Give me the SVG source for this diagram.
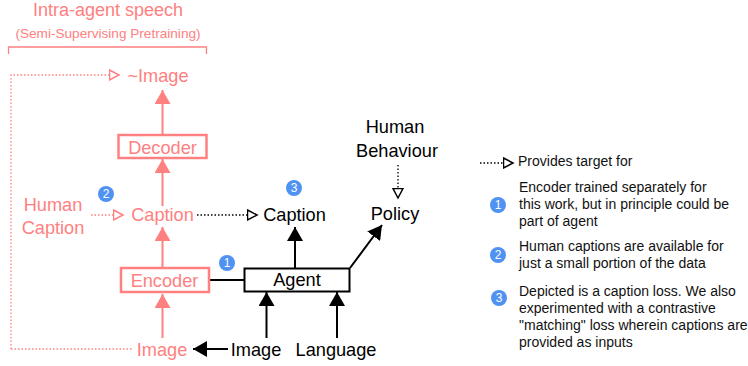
<svg xmlns="http://www.w3.org/2000/svg" width="748" height="366" viewBox="0 0 748 366">
<style>
text{font-family:"Liberation Sans",Arial,sans-serif;}
.pk{fill:#ff8080;}
.bk{fill:#000;}
.big{font-size:18.2px;}
.leg{font-size:14px;fill:#111;}
.box{fill:#fff;stroke:#ff8080;stroke-width:2.5;}
.abox{fill:#fff;stroke:#000;stroke-width:2;}
.pl{stroke:#ff8080;stroke-width:2;fill:none;}
.bl{stroke:#000;stroke-width:2;fill:none;}
.pd{stroke:#ff8080;stroke-width:1.3;stroke-dasharray:1.5 2;fill:none;}
.bd{stroke:#000;stroke-width:1.3;stroke-dasharray:1.5 2;fill:none;}
.badge{fill:#4f92f2;}
.bt{fill:#fff;font-size:12px;text-anchor:middle;}
</style>
<defs>
<marker id="hp" markerUnits="userSpaceOnUse" markerWidth="15" markerHeight="16" refX="14" refY="8" orient="auto"><path d="M0,0 L14,8 L0,16 z" fill="#ff8080"/></marker>
<marker id="hb" markerUnits="userSpaceOnUse" markerWidth="15" markerHeight="16" refX="14" refY="8" orient="auto"><path d="M0,0 L14,8 L0,16 z" fill="#000"/></marker>
<marker id="op" markerUnits="userSpaceOnUse" markerWidth="12" markerHeight="12" refX="10.5" refY="6" orient="auto"><path d="M1,1 L10.5,6 L1,11 z" fill="#fff" stroke="#ff8080" stroke-width="1.5"/></marker>
<marker id="ob" markerUnits="userSpaceOnUse" markerWidth="12" markerHeight="12" refX="10.5" refY="6" orient="auto"><path d="M1,1 L10.5,6 L1,11 z" fill="#fff" stroke="#000" stroke-width="1.5"/></marker>
</defs>

<g id="title">
<text class="pk" x="108" y="16" font-size="18" text-anchor="middle">Intra-agent speech</text>
<text class="pk" x="108" y="37.5" font-size="13.6" text-anchor="middle">(Semi-Supervising Pretraining)</text>
<path d="M8.5,54 V47 H206.5 V54" stroke="#ff8080" stroke-width="1.3" fill="none"/>
</g>

<g id="connectors">
<path class="pd" d="M11,349 H133"/>
<path class="pd" d="M11,349 V75 H119" marker-end="url(#op)"/>
<line class="pl" x1="162.5" y1="135" x2="162.5" y2="90" marker-end="url(#hp)"/>
<line class="pl" x1="162.5" y1="206" x2="162.5" y2="159" marker-end="url(#hp)"/>
<line class="pl" x1="162.5" y1="268" x2="162.5" y2="227" marker-end="url(#hp)"/>
<line class="pl" x1="162.5" y1="338" x2="162.5" y2="294" marker-end="url(#hp)"/>
<line class="pd" x1="91" y1="215" x2="123" y2="215" marker-end="url(#op)"/>
<line class="bd" x1="197" y1="215" x2="257" y2="215" marker-end="url(#ob)"/>
<line class="bd" x1="398" y1="165" x2="398" y2="198" marker-end="url(#ob)"/>
<line class="bl" x1="209" y1="280" x2="244" y2="280"/>
<line class="bl" x1="295" y1="268" x2="295" y2="227" marker-end="url(#hb)"/>
<line class="bl" x1="350" y1="268" x2="382" y2="225" marker-end="url(#hb)"/>
<line class="bl" x1="266.5" y1="338" x2="266.5" y2="292" marker-end="url(#hb)"/>
<line class="bl" x1="337" y1="338" x2="337" y2="292" marker-end="url(#hb)"/>
<line class="bl" x1="228" y1="349" x2="193" y2="349" marker-end="url(#hb)"/>
<line class="bd" x1="480" y1="163" x2="513" y2="163" marker-end="url(#ob)"/>
</g>

<g id="tilde-image"><text class="pk big" x="158" y="82" text-anchor="middle">~Image</text></g>
<g id="decoder"><rect class="box" x="118.5" y="135" width="88" height="23"/><text class="pk big" x="162.5" y="153.5" text-anchor="middle">Decoder</text></g>
<g id="human-caption"><text class="pk big" x="53" y="211" text-anchor="middle">Human</text><text class="pk big" x="53" y="234" text-anchor="middle">Caption</text></g>
<g id="badge2"><circle class="badge" cx="106" cy="194" r="8"/><text class="bt" x="106" y="198.3">2</text></g>
<g id="caption-pink"><text class="pk big" x="162.5" y="221" text-anchor="middle">Caption</text></g>
<g id="encoder"><rect class="box" x="121" y="268" width="88" height="24"/><text class="pk big" x="164.5" y="287" text-anchor="middle">Encoder</text></g>
<g id="badge1"><circle class="badge" cx="227" cy="263" r="8"/><text class="bt" x="227" y="267.3">1</text></g>
<g id="image-pink"><text class="pk big" x="162" y="356" text-anchor="middle">Image</text></g>
<g id="caption-black"><text class="bk big" x="294.5" y="221" text-anchor="middle">Caption</text></g>
<g id="badge3"><circle class="badge" cx="294" cy="188" r="8"/><text class="bt" x="294" y="192.3">3</text></g>
<g id="human-behaviour"><text class="bk big" x="395" y="133" text-anchor="middle">Human</text><text class="bk big" x="397" y="157" text-anchor="middle">Behaviour</text></g>
<g id="policy"><text class="bk big" x="395" y="220" text-anchor="middle">Policy</text></g>
<g id="agent"><rect class="abox" x="244.5" y="268.5" width="105" height="23"/><text class="bk big" x="297" y="286" text-anchor="middle">Agent</text></g>
<g id="image-black"><text class="bk big" x="256" y="356" text-anchor="middle">Image</text></g>
<g id="language"><text class="bk big" x="336" y="356" text-anchor="middle">Language</text></g>

<g id="legend">
<text class="leg" x="518" y="166">Provides target for</text>
<circle class="badge" cx="498" cy="205" r="8"/><text class="bt" x="498" y="209.3">1</text>
<text class="leg" x="519" y="192">Encoder trained separately for</text>
<text class="leg" x="519" y="209">this work, but in principle could be</text>
<text class="leg" x="519" y="226">part of agent</text>
<circle class="badge" cx="498" cy="255" r="8"/><text class="bt" x="498" y="259.3">2</text>
<text class="leg" x="519" y="251">Human captions are available for</text>
<text class="leg" x="519" y="268">just a small portion of the data</text>
<circle class="badge" cx="499" cy="298" r="8"/><text class="bt" x="499" y="302.3">3</text>
<text class="leg" x="519" y="296">Depicted is a caption loss. We also</text>
<text class="leg" x="519" y="313">experimented with a contrastive</text>
<text class="leg" x="519" y="330">"matching" loss wherein captions are</text>
<text class="leg" x="519" y="347">provided as inputs</text>
</g>
</svg>
